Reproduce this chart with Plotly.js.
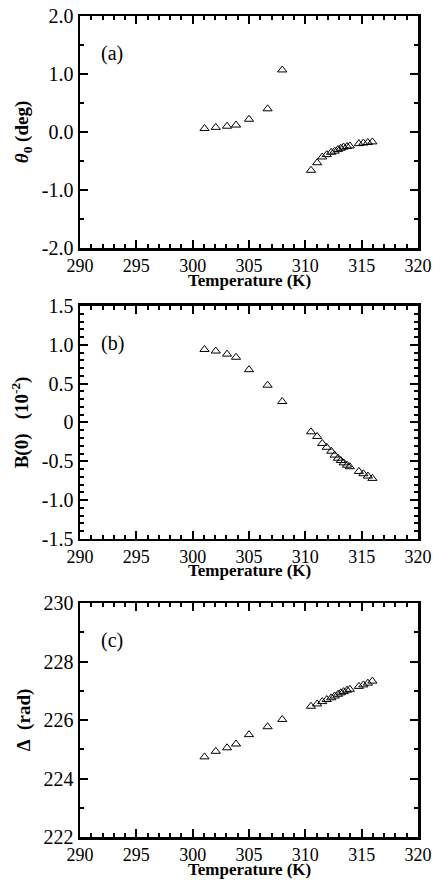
<!DOCTYPE html>
<html>
<head>
<meta charset="utf-8">
<script src="https://cdn.plot.ly/plotly-3.0.1.min.js"></script>
<style>html,body{margin:0;padding:0;background:#fff;}#chart{width:441px;height:880px;}</style>
</head>
<body>
<div id="chart"></div>
<script>
// Temperatures (K)
const tempLow = [301.05, 302.05, 303.05, 303.85, 305.0, 306.65, 307.95];
const tempHigh = [310.5, 311.05, 311.5, 311.9, 312.3, 312.6, 312.9, 313.15, 313.4, 313.7, 313.95, 314.75, 315.15, 315.55, 315.95];

// (a) theta_0 (deg)
const thetaLow = [0.06, 0.08, 0.10, 0.12, 0.22, 0.40, 1.07];
const thetaHigh = [-0.66, -0.53, -0.43, -0.39, -0.35, -0.33, -0.30, -0.28, -0.26, -0.25, -0.24, -0.20, -0.19, -0.18, -0.17];

// (b) B(0) (10^-2)
const bLow = [0.94, 0.92, 0.88, 0.84, 0.68, 0.48, 0.27];
const bHigh = [-0.12, -0.18, -0.27, -0.32, -0.37, -0.42, -0.46, -0.49, -0.52, -0.55, -0.57, -0.63, -0.66, -0.69, -0.72];

// (c) Delta (rad)
const dLow = [224.74, 224.93, 225.05, 225.18, 225.5, 225.77, 226.02];
const dHigh = [226.47, 226.55, 226.63, 226.7, 226.76, 226.82, 226.88, 226.93, 226.97, 227.02, 227.05, 227.15, 227.2, 227.26, 227.33];

// Tick labels
const xTicks = [290, 295, 300, 305, 310, 315, 320];
const aTickVals = [-2, -1, 0, 1, 2];
const aTickText = ["-2.0", "-1.0", "0.0", "1.0", "2.0"];
const bTickVals = [-1.5, -1.0, -0.5, 0, 0.5, 1.0, 1.5];
const bTickText = ["-1.5", "-1.0", "-0.5", "0", "0.5", "1.0", "1.5"];
const cTickVals = [222, 224, 226, 228, 230];
const cTickText = ["222", "224", "226", "228", "230"];

// Texts
const xTitle = "Temperature (K)";
const yTitles = ["<i>θ</i><sub>0</sub> (deg)", "B(0)\u00a0\u00a0\u00a0(10<sup>-2</sup>)", "Δ\u00a0\u00a0(rad)"];
const panelLabels = ["(a)", "(b)", "(c)"];

const FONT = "Liberation Serif";
const mk = {symbol: "triangle-up-open", size: 8, color: "#000", line: {width: 1, color: "#000"}};

function tr(x, y, xa, ya) {
  return {x: x, y: y, xaxis: xa, yaxis: ya, type: "scatter", mode: "markers", marker: mk, showlegend: false, hoverinfo: "x+y"};
}

const data = [
  tr(tempLow.concat(tempHigh), thetaLow.concat(thetaHigh), "x", "y"),
  tr(tempLow.concat(tempHigh), bLow.concat(bHigh), "x2", "y2"),
  tr(tempLow.concat(tempHigh), dLow.concat(dHigh), "x3", "y3")
];

function xax(anchor) {
  return {
    anchor: anchor, range: [290, 320], tickvals: xTicks, ticktext: xTicks.map(String),
    ticks: "inside", ticklen: 8, tickwidth: 2, tickcolor: "#000",
    minor: {dtick: 1, ticks: "inside", ticklen: 4, tickwidth: 2, tickcolor: "#000"},
    showline: true, linewidth: 2.5, linecolor: "#000", mirror: "allticks",
    showgrid: false, zeroline: false,
    tickfont: {family: FONT, size: 18, color: "#000"}
  };
}
function yax(anchor, dom, range, tv, tt, minorDt, title) {
  return {
    anchor: anchor, domain: dom, range: range, tickvals: tv, ticktext: tt,
    ticks: "inside", ticklen: 8, tickwidth: 2, tickcolor: "#000",
    minor: {dtick: minorDt, tick0: range[0], ticks: "inside", ticklen: 4, tickwidth: 2, tickcolor: "#000"},
    showline: true, linewidth: 2.5, linecolor: "#000", mirror: "allticks",
    showgrid: false, zeroline: false,
    tickfont: {family: FONT, size: 20, color: "#000"},
    title: {text: title, font: {family: FONT, size: 19, color: "#000", weight: "bold"}, standoff: 8}
  };
}

const annotations = [];
const xrefs = ["x domain", "x2 domain", "x3 domain"];
const yrefs = ["y domain", "y2 domain", "y3 domain"];
for (let i = 0; i < 3; i++) {
  annotations.push({text: panelLabels[i], xref: xrefs[i], yref: yrefs[i], x: 0.095, y: 0.84,
    xanchor: "center", yanchor: "middle", showarrow: false,
    font: {family: FONT, size: 20, color: "#000"}});
  annotations.push({text: xTitle, xref: xrefs[i], yref: yrefs[i], x: 0.5, y: 0, yshift: -32,
    xanchor: "center", yanchor: "middle", showarrow: false,
    font: {family: FONT, size: 17, color: "#000", weight: "bold"}});
}

const layout = {
  width: 441, height: 880,
  margin: {l: 80, r: 23, t: 16, b: 43},
  paper_bgcolor: "#fff", plot_bgcolor: "#fff",
  font: {family: FONT, color: "#000"},
  xaxis: xax("y"),
  xaxis2: xax("y2"),
  xaxis3: xax("y3"),
  yaxis: yax("x", [0.7174, 1.0], [-2, 2], aTickVals, aTickText, 0.5, yTitles[0]),
  yaxis2: yax("x2", [0.363, 0.6468], [-1.5, 1.5], bTickVals, bTickText, 0.1, yTitles[1]),
  yaxis3: yax("x3", [0, 0.285], [222, 230], cTickVals, cTickText, 1, yTitles[2]),
  annotations: annotations
};

Plotly.newPlot("chart", data, layout, {displayModeBar: false, staticPlot: true});
</script>
</body>
</html>
